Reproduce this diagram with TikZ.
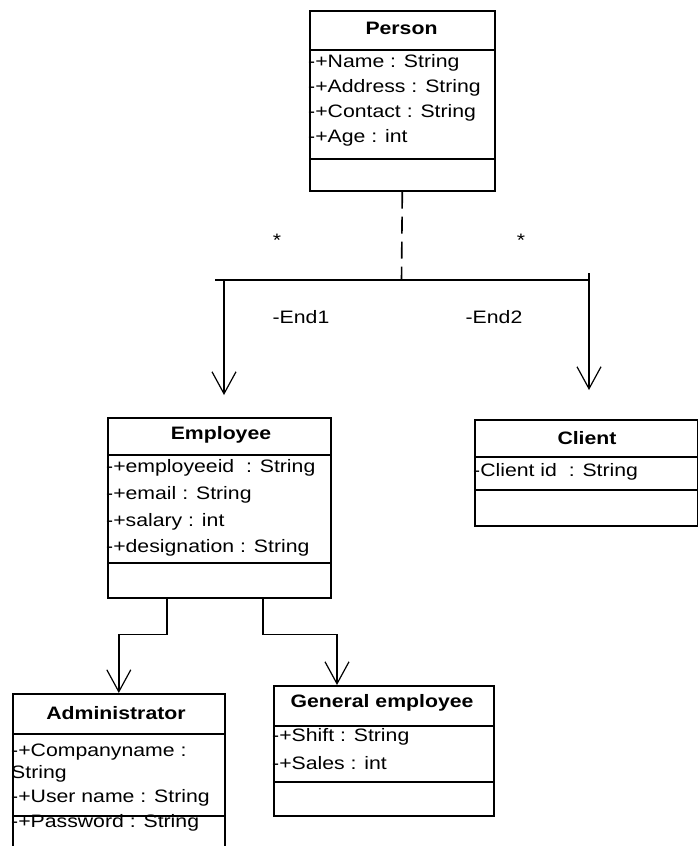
\documentclass[tikz,border=0pt]{standalone}
\usepackage{fontspec}
\setmainfont{Liberation Sans}[FakeStretch=1.18]
\usetikzlibrary{arrows.meta,calc}

\begin{document}
\begin{tikzpicture}[x=1pt,y=-1pt,
  classbox/.style={draw, line width=1.6pt, anchor=north west, inner sep=0pt},
  divider/.style={line width=1.6pt},
  ctitle/.style={inner sep=0pt, font=\fontsize{18}{20}\selectfont\bfseries},
  cattr/.style={anchor=west, inner sep=0pt, font=\fontsize{18}{20}\selectfont},
  elabel/.style={inner sep=0pt, font=\fontsize{18}{20}\selectfont},
  conn/.style={line width=1.6pt},
  arr/.style={line width=1.6pt, -{Straight Barb[length=22pt,width=24pt,line width=1.2pt]}},
]
\useasboundingbox (0,0) rectangle (698,846);
\clip (0,0) rectangle (698,846);

% Person
\node[classbox, minimum width=185pt, minimum height=180pt] (person) at (309,10) {};
\draw[divider] (309,50) -- (494,50);
\draw[divider] (309,159) -- (494,159);
\node[ctitle] (personT) at (401.5,28) {Person};
\node[cattr] (p1) at (308,63) {-+Name : String};
\node[cattr] (p2) at (308,88) {-+Address : String};
\node[cattr] (p3) at (308,113) {-+Contact : String};
\node[cattr] (p4) at (308,138) {-+Age : int};

% Employee
\node[classbox, minimum width=223pt, minimum height=180pt] (emp) at (107,417) {};
\draw[divider] (107,455) -- (330,455);
\draw[divider] (107,563) -- (330,563);
\node[ctitle] (empT) at (221,435) {Employee};
\node[cattr] (e1) at (106,468) {-+employeeid\ \ : String};
\node[cattr] (e2) at (106,495) {-+email : String};
\node[cattr] (e3) at (106,522) {-+salary : int};
\node[cattr] (e4) at (106,548) {-+designation : String};

% Client
\node[classbox, minimum width=223pt, minimum height=106pt] (client) at (474,419) {};
\draw[divider] (474,457) -- (697,457);
\draw[divider] (474,490) -- (697,490);
\node[ctitle] (clientT) at (587,438) {Client};
\node[cattr] (c1) at (473,472) {-Client id\ \ : String};

% Administrator
\node[classbox, minimum width=212pt, minimum height=180pt] (admin) at (12,693) {};
\draw[divider] (12,734) -- (224,734);
\draw[divider] (12,816) -- (224,816);
\node[ctitle] (adminT) at (116,713) {Administrator};
\node[cattr] (a1) at (11,752) {-+Companyname :};
\node[cattr] (a2) at (11,774) {String};
\node[cattr] (a3) at (11,798) {-+User name : String};
\node[cattr] (a4) at (11,823) {-+Password : String};

% General employee
\node[classbox, minimum width=220pt, minimum height=130pt] (gen) at (273,685) {};
\draw[divider] (273,726) -- (493,726);
\draw[divider] (273,782) -- (493,782);
\node[ctitle] (genT) at (382,703) {General employee};
\node[cattr] (g1t) at (272,737) {-+Shift : String};
\node[cattr] (g2t) at (272,763) {-+Sales : int};

% Association from Person to Employee and Client
\coordinate (junc) at (401.5,280);
\coordinate (barL) at (215,280);
\coordinate (barR) at (589,280);
\coordinate (endL) at (224,280);
\coordinate (endR) at (589,273);
\coordinate (tipL) at (224,395);
\coordinate (tipR) at (589,390);
\draw[conn, dash pattern=on 17pt off 8pt] (person.south) -- (junc);
\draw[conn] (barL) -- (barR);
\draw[arr] (endL) -- (tipL);
\draw[arr] (endR) -- (tipR);
\node[elabel] (star1) at (277,240) {*};
\node[elabel] (star2) at (521,240) {*};
\node[elabel] (end1) at (301,317) {-End1};
\node[elabel] (end2) at (494,317) {-End2};

% Employee specialisations
\coordinate (eA) at ($(emp.south west)+(60,0)$);
\coordinate (eG) at ($(emp.south west)+(156,0)$);
\coordinate (gTip) at ($(gen.north west)+(64,0)$);
\draw[arr] (eA) -- ++(0,36) -| (admin.north);
\draw[arr] (eG) -- ++(0,36) -| (gTip);
\end{tikzpicture}
\end{document}
